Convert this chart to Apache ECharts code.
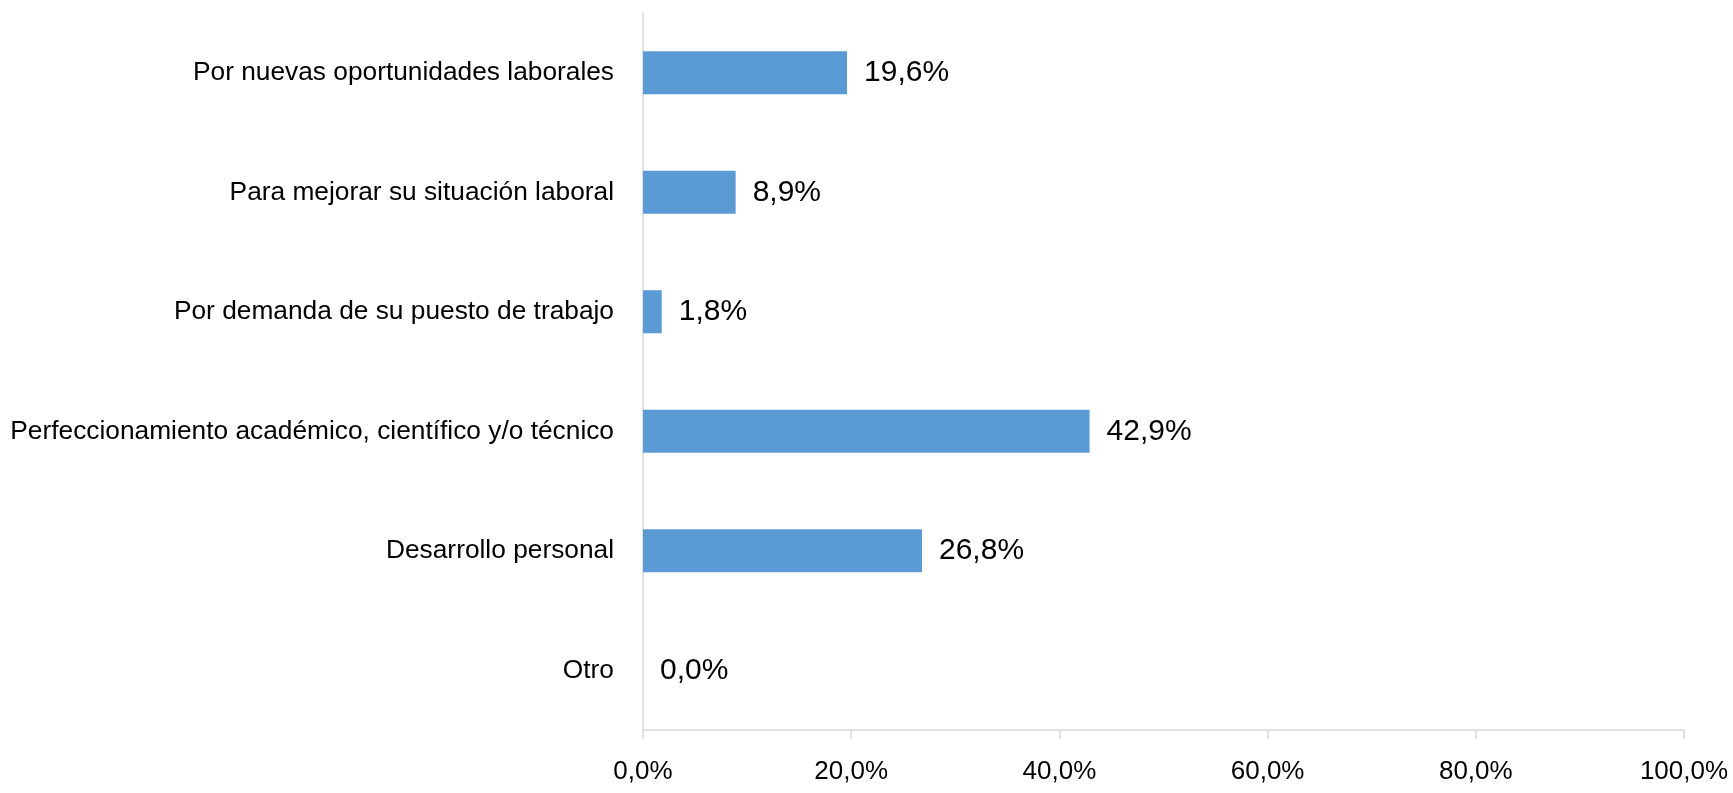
<!DOCTYPE html>
<html><head><meta charset="utf-8">
<script src="https://cdn.jsdelivr.net/npm/echarts@6/dist/echarts.min.js"></script>
<style>html,body{margin:0;padding:0;background:#fff}#c{width:1733px;height:793px}</style>
</head><body><div id="c"></div>
<script>
const categories = ["Otro","Desarrollo personal","Perfeccionamiento académico, científico y/o técnico","Por demanda de su puesto de trabajo","Para mejorar su situación laboral","Por nuevas oportunidades laborales"];
const values = [0.0, 26.8, 42.9, 1.8, 8.9, 19.6];
const xTicks = [0, 20, 40, 60, 80, 100];
const font = '"Liberation Sans Narrow","Arial Narrow","Liberation Sans",Arial,sans-serif';
const fmt = v => v.toFixed(1).replace('.', ',') + '%';
const chart = echarts.init(document.getElementById('c'));
chart.setOption({
  animation:false,
  grid:{left:643,right:49,top:13,bottom:63},
  xAxis:{type:'value',min:xTicks[0],max:xTicks[xTicks.length-1],interval:20,
    axisLine:{show:true,lineStyle:{color:'#d9d9d9',width:1.5}},
    axisTick:{show:true,length:9,lineStyle:{color:'#d9d9d9',width:1.5}},
    splitLine:{show:false},
    axisLabel:{formatter:fmt,color:'#000',fontSize:26,fontFamily:font,margin:29}},
  yAxis:{type:'category',data:categories,
    axisLine:{show:true,lineStyle:{color:'#d9d9d9',width:1.5}},
    axisTick:{show:false},
    axisLabel:{color:'#000',fontSize:26.3,fontFamily:font,margin:29}},
  series:[{type:'bar',data:values,barWidth:'36%',
    itemStyle:{color:'#5b9bd5'},
    label:{show:true,position:'right',distance:17,formatter:p=>fmt(p.value),color:'#000',fontSize:30,fontFamily:font}}]
});
</script></body></html>
